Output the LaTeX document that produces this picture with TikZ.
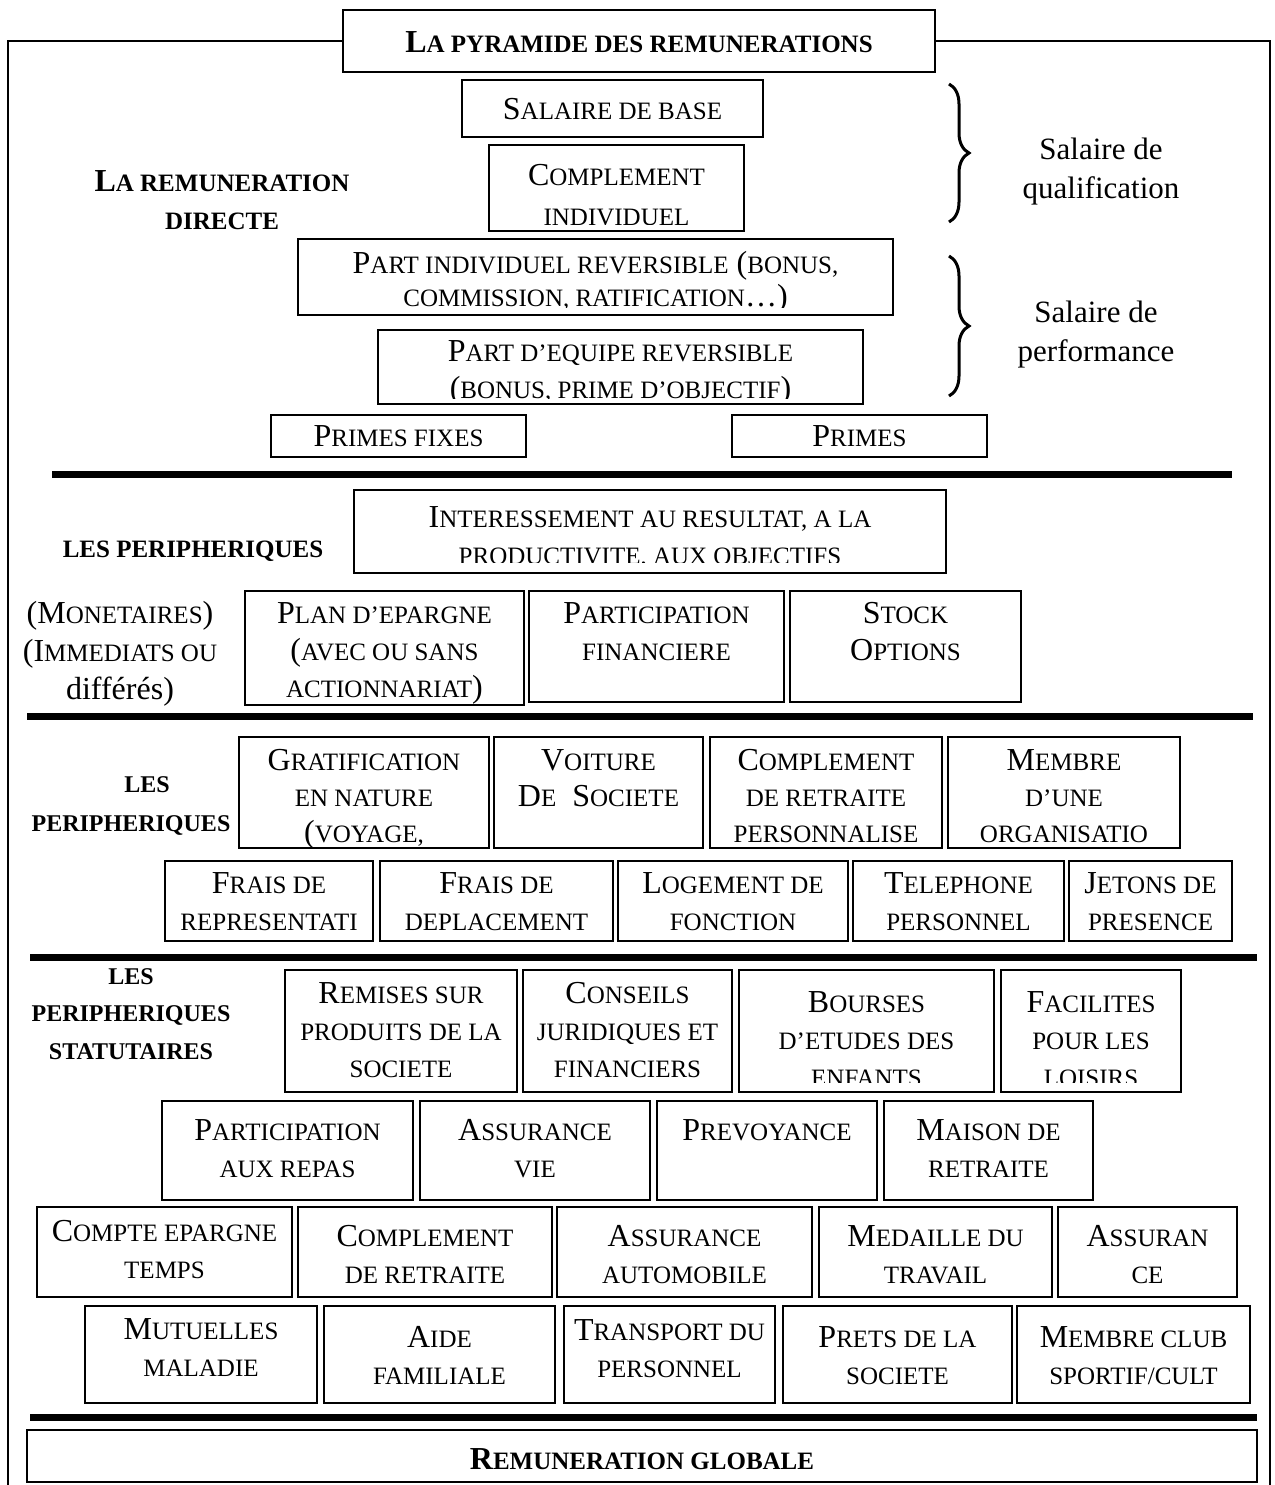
\documentclass[tikz,border=0pt]{standalone}
\usepackage{fontspec}
\setmainfont{Liberation Serif}
\usetikzlibrary{fit,decorations.pathreplacing}

% reduced capitals for the small-caps look
\newcommand\sm[1]{{\fontsize{25}{37}\selectfont #1}}
% fixed-height strut so that a text's first baseline sits 26pt under its top
\newcommand\fs{\rule{0pt}{26pt}}
% framed cell: [bottom margin], name, corner, corner, baseline of first line, text
% (the text is clipped at the bottom margin of the frame)
\newcommand\cellbox[6][2]{%
  \node[cell, fit={#3 #4}] (#2) {};
  \begin{scope}
    \clip ([shift={(1,1)}]#2.north west) rectangle ([shift={(-1,-#1)}]#2.south east);
    \node[lbl, first] at (#2.center |- 0,#5) {\fs#6};
  \end{scope}}

\begin{document}
\begin{tikzpicture}[x=1pt, y=-1pt,
  cell/.style={draw, line width=2pt, inner sep=0pt},
  first/.style={anchor=north, yshift=26pt},
  lbl/.style={align=center, inner sep=0pt, font={\fontsize{32}{37}\selectfont}},
  head/.style={align=center, inner sep=0pt, font={\fontsize{25}{38}\selectfont\bfseries}},
  side/.style={align=center, inner sep=0pt, font={\fontsize{31}{39}\selectfont}},
  frame/.style={line width=2pt},
  rulebar/.style={line width=7pt},
  brc/.style={decorate, decoration={brace, amplitude=20pt}, line width=3pt}]
\useasboundingbox[fill=white] (0,0) rectangle (1274,1485);

% ---- title and outer frame
\cellbox{title}{(343,10)}{(935,72)}{52}{\bfseries L\sm{A PYRAMIDE DES REMUNERATIONS}}
\draw[frame] (title.west) -- (8,41) -- (8,1490);
\draw[frame] (title.east) -- (1270,41) -- (1270,1490);

% ---- direct pay
\node[lbl, first, font={\fontsize{32}{38}\selectfont\bfseries}] (direct) at (222,191)
  {\fs L\sm{A REMUNERATION}\\\sm{DIRECTE}};
\cellbox{base}{(462,80)}{(763,137)}{119}{S\sm{ALAIRE DE BASE}}
\cellbox[8]{compind}{(489,145)}{(744,231)}{185}{C\sm{OMPLEMENT}\\[3pt]\sm{INDIVIDUEL}}
\cellbox[9]{partind}{(298,239)}{(893,315)}{273}{P\sm{ART INDIVIDUEL REVERSIBLE} (\sm{BONUS,}\\[-4pt]\sm{COMMISSION, RATIFICATION}…)}
\cellbox[7]{parteq}{(378,330)}{(863,404)}{361}{P\sm{ART D’EQUIPE REVERSIBLE}\\(\sm{BONUS, PRIME D’OBJECTIF})}
\cellbox{pfixes}{(271,415)}{(526,457)}{446}{P\sm{RIMES FIXES}}
\cellbox{primes}{(732,415)}{(987,457)}{446}{P\sm{RIMES}}

\draw[brc] (949,84) -- (949,222);
\draw[brc] (949,256) -- (949,396);
\node[side, first] (qual) at (1101,159) {\fs Salaire de\\qualification};
\node[side, first] (perf) at (1096,322) {\fs Salaire de\\performance};

\draw[rulebar] (52,474) -- (1232,474);

% ---- monetary extras
\node[head, first] (per1) at (193,557) {\fs LES PERIPHERIQUES};
\cellbox[12]{interes}{(354,490)}{(946,573)}{527}{I\sm{NTERESSEMENT AU RESULTAT, A LA}\\\sm{PRODUCTIVITE, AUX OBJECTIFS}}
\node[lbl, first, font={\fontsize{32}{38}\selectfont}] (mon) at (120,623)
  {\fs(M\sm{ONETAIRES})\\(I\sm{MMEDIATS OU}\\différés)};
\cellbox{plan}{(245,591)}{(524,705)}{623}{P\sm{LAN D’EPARGNE}\\(\sm{AVEC OU SANS}\\\sm{ACTIONNARIAT})}
\cellbox{partfin}{(529,591)}{(784,702)}{623}{P\sm{ARTICIPATION}\\\sm{FINANCIERE}}
\cellbox{stock}{(790,591)}{(1021,702)}{623}{S\sm{TOCK}\\O\sm{PTIONS}}

\draw[rulebar] (27,716) -- (1253,716);

% ---- benefits in kind
\node[head, first, font={\fontsize{24}{39}\selectfont\bfseries}] (per2) at (131,792) {\fs\hspace*{32pt}LES\\PERIPHERIQUES};
\cellbox[1]{gratif}{(239,737)}{(489,848)}{770}{G\sm{RATIFICATION}\\[-1pt]\sm{EN NATURE}\\[-1pt](\sm{VOYAGE,}}
\cellbox[1]{voiture}{(494,737)}{(703,848)}{770}{V\sm{OITURE}\\[-1pt]D\sm{E}\ \ S\sm{OCIETE}}
\cellbox[1]{retperso}{(710,737)}{(942,848)}{770}{C\sm{OMPLEMENT}\\[-1pt]\sm{DE RETRAITE}\\[-1pt]\sm{PERSONNALISE}}
\cellbox[1]{orga}{(948,737)}{(1180,848)}{770}{M\sm{EMBRE}\\[-1pt]\sm{D’UNE}\\[-1pt]\sm{ORGANISATIO}}
\cellbox{represent}{(165,861)}{(373,941)}{893}{F\sm{RAIS DE}\\\sm{REPRESENTATI}}
\cellbox{deplac}{(380,861)}{(613,941)}{893}{F\sm{RAIS DE}\\\sm{DEPLACEMENT}}
\cellbox{logement}{(618,861)}{(848,941)}{893}{L\sm{OGEMENT DE}\\\sm{FONCTION}}
\cellbox{tel}{(853,861)}{(1064,941)}{893}{T\sm{ELEPHONE}\\\sm{PERSONNEL}}
\cellbox{jetons}{(1069,861)}{(1232,941)}{893}{J\sm{ETONS DE}\\\sm{PRESENCE}}

\draw[rulebar] (30,957) -- (1257,957);

% ---- statutory extras
\node[head, first, font={\fontsize{24}{37.5}\selectfont\bfseries}] (per3) at (131,984) {\fs LES\\PERIPHERIQUES\\STATUTAIRES};
\cellbox{remises}{(285,970)}{(517,1092)}{1003}{R\sm{EMISES SUR}\\\sm{PRODUITS DE LA}\\\sm{SOCIETE}}
\cellbox{conseils}{(523,970)}{(732,1092)}{1003}{C\sm{ONSEILS}\\\sm{JURIDIQUES ET}\\\sm{FINANCIERS}}
\cellbox[11]{bourses}{(739,970)}{(994,1092)}{1012}{B\sm{OURSES}\\\sm{D’ETUDES DES}\\\sm{ENFANTS}}
\cellbox[11]{loisirs}{(1001,970)}{(1181,1092)}{1012}{F\sm{ACILITES}\\\sm{POUR LES}\\\sm{LOISIRS}}
\cellbox{repas}{(162,1101)}{(413,1200)}{1140}{P\sm{ARTICIPATION}\\\sm{AUX REPAS}}
\cellbox{vie}{(420,1101)}{(650,1200)}{1140}{A\sm{SSURANCE}\\\sm{VIE}}
\cellbox{prevoy}{(657,1101)}{(877,1200)}{1140}{P\sm{REVOYANCE}}
\cellbox{maison}{(884,1101)}{(1093,1200)}{1140}{M\sm{AISON DE}\\\sm{RETRAITE}}
\cellbox{cet}{(37,1207)}{(292,1297)}{1241}{C\sm{OMPTE EPARGNE}\\\sm{TEMPS}}
\cellbox{retraite}{(298,1207)}{(552,1297)}{1246}{C\sm{OMPLEMENT}\\\sm{DE RETRAITE}}
\cellbox{auto}{(557,1207)}{(812,1297)}{1246}{A\sm{SSURANCE}\\\sm{AUTOMOBILE}}
\cellbox{medaille}{(819,1207)}{(1052,1297)}{1246}{M\sm{EDAILLE DU}\\\sm{TRAVAIL}}
\cellbox{assur}{(1058,1207)}{(1237,1297)}{1246}{A\sm{SSURAN}\\\sm{CE}}
\cellbox{mutuelles}{(85,1306)}{(317,1403)}{1339}{M\sm{UTUELLES}\\\sm{MALADIE}}
\cellbox{aide}{(324,1306)}{(555,1403)}{1347}{A\sm{IDE}\\\sm{FAMILIALE}}
\cellbox{transport}{(564,1306)}{(775,1403)}{1340}{T\sm{RANSPORT DU}\\\sm{PERSONNEL}}
\cellbox{prets}{(783,1306)}{(1012,1403)}{1347}{P\sm{RETS DE LA}\\\sm{SOCIETE}}
\cellbox{club}{(1017,1306)}{(1250,1403)}{1347}{M\sm{EMBRE CLUB}\\\sm{SPORTIF/CULT}}

\draw[rulebar] (30,1417) -- (1257,1417);

% ---- total
\cellbox{globale}{(27,1430)}{(1257,1482)}{1469}{\bfseries R\sm{EMUNERATION GLOBALE}}
\end{tikzpicture}
\end{document}
